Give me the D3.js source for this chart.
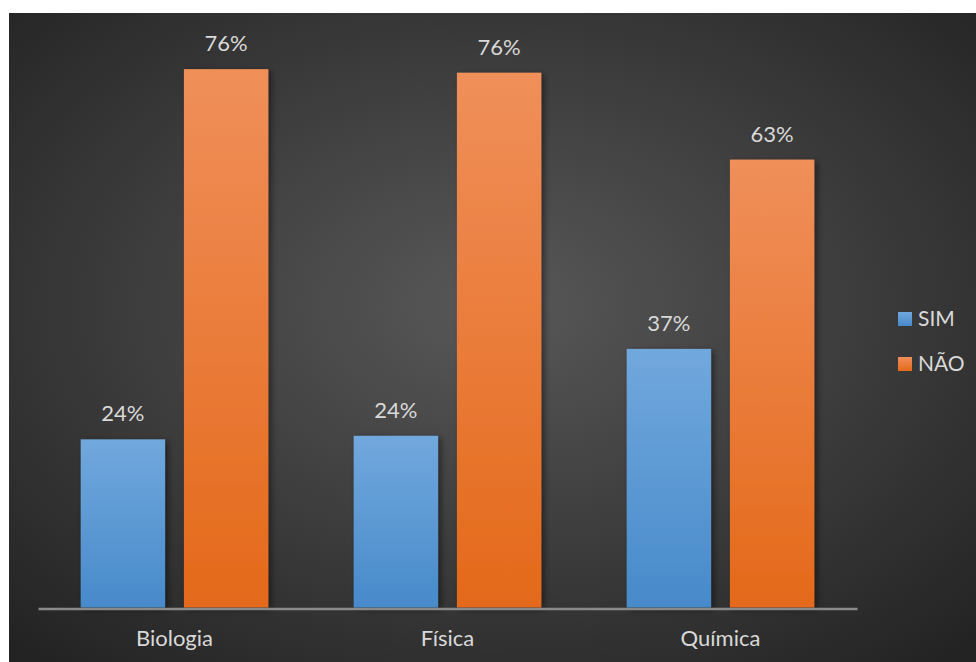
<!DOCTYPE html>
<html>
<head>
<meta charset="utf-8">
<script src="https://cdn.jsdelivr.net/npm/d3@7"></script>
<style>
  html, body { margin: 0; padding: 0; background: #ffffff; }
  svg { display: block; }
  text { font-family: Lato, "Open Sans", sans-serif; }
</style>
</head>
<body>
<svg id="chart" width="976" height="662"></svg>
<script>
// ---- data ----
const categories = ["Biologia", "Física", "Química"];
const seriesNames = ["SIM", "NÃO"];
const simValues = [0.238, 0.243, 0.366];
const naoValues = [0.762, 0.757, 0.634];
const seriesColors = {
  "SIM": ["#71a8dd", "#478aca"],
  "NÃO": ["#f08f5a", "#e4691a"]
};

const svg = d3.select("#chart");
const defs = svg.append("defs");

// background radial gradient
const bg = defs.append("radialGradient").attr("id", "bgGrad")
  .attr("cx", "50%").attr("cy", "45%").attr("r", "72%");
bg.append("stop").attr("offset", "0%").attr("stop-color", "#585858");
bg.append("stop").attr("offset", "100%").attr("stop-color", "#232323");

seriesNames.forEach((s, i) => {
  const g = defs.append("linearGradient").attr("id", "grad" + i)
    .attr("x1", 0).attr("y1", 0).attr("x2", 0).attr("y2", 1);
  g.append("stop").attr("offset", "0%").attr("stop-color", seriesColors[s][0]);
  g.append("stop").attr("offset", "100%").attr("stop-color", seriesColors[s][1]);
});

const shadow = defs.append("filter").attr("id", "shadow")
  .attr("x", "-20%").attr("y", "-5%").attr("width", "150%").attr("height", "115%");
shadow.append("feDropShadow").attr("dx", 3).attr("dy", 2)
  .attr("stdDeviation", 3).attr("flood-color", "#000").attr("flood-opacity", 0.45);

svg.append("rect").attr("x", 9).attr("y", 13).attr("width", 967).attr("height", 649)
  .attr("fill", "url(#bgGrad)");

// scales
const baseline = 607.5;
const y = d3.scaleLinear().domain([0, 0.8]).range([baseline, baseline - 0.8 * 706.5]);
const x0 = d3.scaleBand().domain(categories).range([38, 857]).padding(0);
const x1 = d3.scaleBand().domain(seriesNames).range([0, x0.bandwidth()])
  .paddingInner(0.1827).paddingOuter(0.4135);

const rows = categories.map((c, i) => ({
  cat: c,
  vals: [{ s: "SIM", v: simValues[i] }, { s: "NÃO", v: naoValues[i] }]
}));

const fmt = d3.format(".0%");

const groups = svg.append("g").selectAll("g").data(rows).join("g")
  .attr("transform", d => `translate(${x0(d.cat)},0)`);

groups.selectAll("rect").data(d => d.vals).join("rect")
  .attr("x", d => x1(d.s))
  .attr("y", d => y(d.v))
  .attr("width", x1.bandwidth())
  .attr("height", d => baseline - y(d.v))
  .attr("fill", d => "url(#grad" + seriesNames.indexOf(d.s) + ")")
  .attr("filter", "url(#shadow)");

groups.selectAll("text.lbl").data(d => d.vals).join("text")
  .attr("class", "lbl")
  .attr("x", d => x1(d.s) + x1.bandwidth() / 2)
  .attr("y", d => y(d.v) - 18)
  .attr("text-anchor", "middle")
  .attr("font-size", 22)
  .attr("fill", "#d9d9d9")
  .text(d => fmt(d.v));

// x axis
const xAxis = d3.axisBottom(x0).tickSize(0).tickPadding(0);
const ax = svg.append("g").attr("transform", `translate(0,${baseline + 1})`).call(xAxis);
ax.select(".domain").attr("stroke", "#8a8a8a").attr("stroke-width", 2.5);
ax.selectAll(".tick text")
  .attr("font-size", 22)
  .attr("font-family", "Lato, 'Open Sans', sans-serif")
  .attr("fill", "#d9d9d9")
  .attr("dy", 0)
  .attr("y", 37);

// legend
const legend = svg.append("g").selectAll("g").data(seriesNames).join("g")
  .attr("transform", (d, i) => `translate(898,${312 + i * 45})`);
legend.append("rect").attr("width", 14).attr("height", 14)
  .attr("fill", (d, i) => "url(#grad" + i + ")");
legend.append("text").attr("x", 20).attr("y", 14)
  .attr("font-size", 21).attr("fill", "#d9d9d9").text(d => d);
</script>
</body>
</html>
